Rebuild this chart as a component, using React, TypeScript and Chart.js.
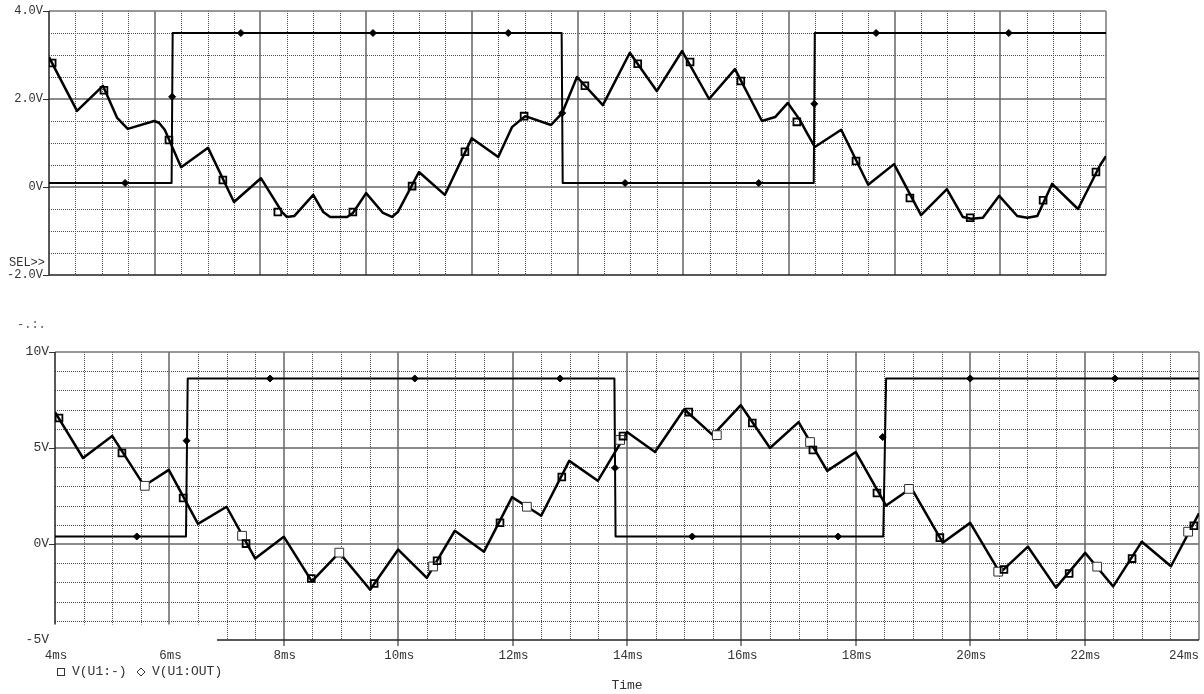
import React, { useEffect, useRef } from "react";
import { Chart, registerables } from "chart.js";
Chart.register(...registerables);

const MONO = '"Liberation Mono", "DejaVu Sans Mono", monospace';

// ---- shared time axis ----
const timeMin = 4;
const timeMax = 24;
const timeTickValues = [4, 6, 8, 10, 12, 14, 16, 18, 20, 22, 24];
const timeTickLabels = ["4ms", "6ms", "8ms", "10ms", "12ms", "14ms", "16ms", "18ms", "20ms", "22ms", "24ms"];

// ---- top panel ----
const topYTicks = [-2, 0, 2, 4];
const topInvT = [4.0, 4.53, 5.02, 5.29, 5.49, 5.99, 6.08, 6.19, 6.5, 7.01, 7.5, 8.01, 8.41, 8.5, 8.64, 9.0, 9.19, 9.32, 9.64, 9.75, 10.0, 10.32, 10.49, 10.6, 11.0, 11.49, 12.0, 12.5, 12.76, 13.01, 13.5, 13.71, 13.99, 14.48, 14.99, 15.5, 15.98, 16.49, 16.98, 17.49, 17.74, 17.98, 18.21, 18.34, 18.49, 18.99, 19.5, 19.99, 20.5, 20.99, 21.29, 21.45, 21.67, 21.98, 22.32, 22.51, 22.7, 22.98, 23.47, 23.89, 24.0];
const topInvV = [2.95, 1.73, 2.3, 1.57, 1.32, 1.5, 1.46, 1.3, 0.45, 0.89, -0.34, 0.2, -0.57, -0.68, -0.66, -0.18, -0.57, -0.68, -0.68, -0.59, -0.14, -0.59, -0.68, -0.57, 0.34, -0.18, 1.11, 0.68, 1.36, 1.61, 1.41, 1.68, 2.5, 1.86, 3.05, 2.18, 3.09, 2.0, 2.68, 1.5, 1.59, 1.91, 1.52, 1.23, 0.91, 1.3, 0.05, 0.52, -0.64, -0.05, -0.68, -0.72, -0.7, -0.2, -0.66, -0.7, -0.66, 0.07, -0.5, 0.5, 0.7];
const topOutT = [4, 6.32, 6.34, 13.7, 13.72, 18.47, 18.49, 24];
const topOutV = [0.09, 0.09, 3.5, 3.5, 0.09, 0.09, 3.5, 3.5];
const topInvMarkT = [4.06, 5.04, 6.27, 7.29, 8.33, 9.75, 10.87, 11.87, 12.99, 14.14, 15.14, 16.13, 17.09, 18.15, 19.27, 20.29, 21.43, 22.81, 23.81];
const topInvMarkV = [2.82, 2.2, 1.07, 0.16, -0.57, -0.57, 0.02, 0.8, 1.61, 2.3, 2.8, 2.84, 2.41, 1.48, 0.59, -0.25, -0.7, -0.3, 0.34];
const topOutMarkT = [5.44, 6.33, 7.63, 10.13, 12.69, 13.71, 14.9, 17.43, 18.48, 19.65, 22.16];
const topOutMarkV = [0.09, 2.05, 3.5, 3.5, 3.5, 1.68, 0.09, 0.09, 1.89, 3.5, 3.5];

// ---- bottom panel ----
const botYTicks = [-5, 0, 5, 10];
const botInvT = [4.0, 4.49, 5.0, 5.56, 5.99, 6.5, 7.0, 7.5, 8.0, 8.49, 8.97, 9.51, 10.0, 10.5, 10.99, 11.5, 11.99, 12.5, 12.99, 13.49, 14.0, 14.49, 15.0, 15.5, 15.99, 16.5, 17.0, 17.5, 18.0, 18.53, 18.97, 19.52, 20.0, 20.52, 21.01, 21.5, 22.01, 22.5, 23.0, 23.51, 24.0];
const botInvV = [6.87, 4.48, 5.63, 3.03, 3.86, 1.05, 1.94, -0.76, 0.38, -1.95, -0.45, -2.38, -0.29, -1.76, 0.69, -0.4, 2.44, 1.47, 4.33, 3.29, 5.83, 4.79, 7.02, 5.67, 7.23, 5.0, 6.35, 3.81, 4.79, 2.0, 2.92, 0.07, 1.1, -1.5, -0.14, -2.27, -0.46, -2.21, 0.12, -1.16, 1.6];
const botOutT = [4, 6.29, 6.32, 13.78, 13.8, 18.48, 18.53, 24];
const botOutV = [0.39, 0.39, 8.62, 8.62, 0.39, 0.39, 8.62, 8.62];
const botInvMarkT = [4.07, 5.17, 6.24, 7.34, 8.48, 9.58, 10.68, 11.78, 12.86, 13.93, 15.08, 16.19, 17.25, 18.37, 19.47, 20.59, 21.73, 22.83, 23.91];
const botInvMarkV = [6.56, 4.74, 2.4, 0.02, -1.8, -2.06, -0.87, 1.11, 3.49, 5.62, 6.87, 6.3, 4.9, 2.66, 0.33, -1.33, -1.54, -0.76, 0.95];
const botInvMark2T = [5.57, 7.27, 8.97, 10.61, 12.25, 13.88, 15.57, 17.2, 18.93, 20.49, 22.22, 23.81];
const botInvMark2V = [3.03, 0.43, -0.45, -1.17, 1.94, 5.42, 5.67, 5.31, 2.87, -1.44, -1.18, 0.64];
const botOutMarkT = [5.43, 6.3, 7.76, 10.29, 12.83, 13.79, 15.14, 17.69, 18.47, 20.0, 22.53];
const botOutMarkV = [0.39, 5.38, 8.62, 8.62, 8.62, 3.96, 0.39, 0.39, 5.57, 8.62, 8.62];

const legendLabels = ["V(U1:-)", "V(U1:OUT)"];
const xAxisTitle = "Time";

const pts = (t: number[], v: number[]) => t.map((x, i) => ({ x, y: v[i] }));

type PanelCfg = {
  minorX: number;
  majorX: number;
  minorY: number;
  majorY: number;
  cut?: { x: number; y: number };
  bottomTicks?: boolean;
  extra?: (chart: any) => void;
};

function makeGridPlugin(cfg: PanelCfg) {
  return {
    id: "pspiceGrid",
    beforeDatasetsDraw(chart: any) {
      const { ctx, chartArea: a } = chart;
      const xs = chart.scales.x;
      const ys = chart.scales.y;
      const isMul = (v: number, s: number) => Math.abs(v / s - Math.round(v / s)) < 1e-6;
      const cr = (p: number) => Math.round(p) + 0.5;
      ctx.save();
      // minor dotted
      ctx.lineWidth = 1;
      ctx.strokeStyle = "#4a4a4a";
      ctx.setLineDash([1, 1]);
      ctx.beginPath();
      for (let i = 1; ; i++) {
        const v = xs.min + i * cfg.minorX;
        if (v >= xs.max - 1e-9) break;
        if (isMul(v, cfg.majorX)) continue;
        const p = cr(xs.getPixelForValue(v));
        ctx.moveTo(p, a.top);
        ctx.lineTo(p, a.bottom);
      }
      for (let i = 1; ; i++) {
        const v = ys.min + i * cfg.minorY;
        if (v >= ys.max - 1e-9) break;
        if (isMul(v, cfg.majorY)) continue;
        const p = cr(ys.getPixelForValue(v));
        ctx.moveTo(a.left, p);
        ctx.lineTo(a.right, p);
      }
      ctx.stroke();
      // major solid
      ctx.setLineDash([]);
      ctx.lineWidth = 1.5;
      ctx.strokeStyle = "#666";
      ctx.beginPath();
      for (let i = 1; ; i++) {
        const v = xs.min + i * cfg.majorX;
        if (v >= xs.max - 1e-9) break;
        const p = Math.round(xs.getPixelForValue(v));
        const below = cfg.bottomTicks && (!cfg.cut || p >= cfg.cut.x) ? 6 : 0;
        ctx.moveTo(p, a.top);
        ctx.lineTo(p, a.bottom + below);
      }
      for (let i = 1; ; i++) {
        const v = ys.min + i * cfg.majorY;
        if (v >= ys.max - 1e-9) break;
        const p = Math.round(ys.getPixelForValue(v));
        ctx.moveTo(a.left, p);
        ctx.lineTo(a.right, p);
      }
      ctx.stroke();
      // frame: top, right grey
      ctx.lineWidth = 1.5;
      ctx.strokeStyle = "#777";
      ctx.beginPath();
      ctx.moveTo(a.left, Math.round(a.top));
      ctx.lineTo(a.right, Math.round(a.top));
      ctx.moveTo(Math.round(a.right), a.top);
      ctx.lineTo(Math.round(a.right), a.bottom);
      ctx.stroke();
      if (cfg.cut) {
        ctx.fillStyle = "#fff";
        ctx.fillRect(0, cfg.cut.y, cfg.cut.x, a.bottom + 3 - cfg.cut.y);
      }
      ctx.strokeStyle = "#222";
      ctx.beginPath();
      const bx0 = cfg.cut ? cfg.cut.x : a.left;
      ctx.moveTo(bx0, Math.round(a.bottom));
      ctx.lineTo(a.right, Math.round(a.bottom));
      ctx.moveTo(Math.round(a.left), a.top);
      ctx.lineTo(Math.round(a.left), cfg.cut ? cfg.cut.y : a.bottom);
      ctx.stroke();
      ctx.restore();
    },
    afterDraw(chart: any) {
      if (cfg.extra) cfg.extra(chart);
    },
  };
}

function lineDs(data: any[], width: number) {
  return {
    data,
    borderColor: "#000",
    borderWidth: width,
    pointRadius: 0,
    tension: 0,
    borderJoinStyle: "round",
    fill: false,
  };
}

function markDs(data: any[], style: string, radius: number, bg: string, border: string, bw: number) {
  return {
    data,
    showLine: false,
    pointStyle: style,
    pointRadius: radius,
    pointBackgroundColor: bg,
    pointBorderColor: border,
    pointBorderWidth: bw,
  };
}

function baseOptions(yTicks: number[], yFont: number, pad: any, yTickCb: (v: number) => string, yTickColor: any) {
  return {
    animation: false,
    responsive: false,
    events: [],
    layout: { padding: pad, autoPadding: false },
    plugins: { legend: { display: false }, tooltip: { enabled: false } },
    scales: {
      x: { type: "linear", min: timeMin, max: timeMax, display: false },
      y: {
        type: "linear",
        min: yTicks[0],
        max: yTicks[yTicks.length - 1],
        afterFit: (s: any) => {
          s.width = pad.axisWidth;
        },
        afterBuildTicks: (s: any) => {
          s.ticks = yTicks.map((v) => ({ value: v }));
        },
        ticks: {
          z: 1,
          padding: 0,
          color: "#333",
          font: { family: MONO, size: yFont },
          callback: (v: any) => yTickCb(Number(v)),
        },
        grid: { display: true, drawOnChartArea: false, drawTicks: true, tickLength: 6, tickColor: yTickColor, tickWidth: 1 },
        border: { display: false },
      },
    },
  };
}

export default function App() {
  const topRef = useRef<HTMLCanvasElement>(null);
  const botRef = useRef<HTMLCanvasElement>(null);

  useEffect(() => {
    const topPad = { top: 11, right: 98, bottom: 25, left: 0, axisWidth: 49 };
    const topChart = new Chart(topRef.current as HTMLCanvasElement, {
      type: "line",
      data: {
        datasets: [
          markDs(pts(topInvMarkT, topInvMarkV), "rect", 4.8, "rgba(0,0,0,0)", "#000", 1.8),
          markDs(pts(topOutMarkT, topOutMarkV), "rectRot", 3.5, "#000", "#000", 1),
          lineDs(pts(topInvT, topInvV), 2.5),
          lineDs(pts(topOutT, topOutV), 2),
        ] as any,
      },
      options: baseOptions(topYTicks, 12, topPad, (v) => (v === 0 ? "0V" : v.toFixed(1) + "V"), "#333") as any,
      plugins: [
        makeGridPlugin({
          minorX: 0.5,
          majorX: 2,
          minorY: 0.5,
          majorY: 2,
          extra: (chart: any) => {
            const ctx = chart.ctx;
            ctx.save();
            ctx.fillStyle = "#333";
            ctx.font = `12px ${MONO}`;
            ctx.textAlign = "left";
            ctx.textBaseline = "middle";
            ctx.fillText("SEL>>", 9, 263);
            ctx.restore();
          },
        }) as any,
      ],
    });

    const botPad = { top: 52, right: 5, bottom: 54, left: 0, axisWidth: 55 };
    const botChart = new Chart(botRef.current as HTMLCanvasElement, {
      type: "line",
      data: {
        datasets: [
          markDs(pts(botInvMarkT, botInvMarkV), "rect", 4.8, "rgba(0,0,0,0)", "#000", 1.8),
          markDs(pts(botInvMark2T, botInvMark2V), "rect", 6.2, "#fff", "#333", 1),
          markDs(pts(botOutMarkT, botOutMarkV), "rectRot", 3.5, "#000", "#000", 1),
          lineDs(pts(botInvT, botInvV), 2.5),
          lineDs(pts(botOutT, botOutV), 2),
        ] as any,
      },
      options: baseOptions(botYTicks, 13, botPad, (v) => v + "V", (c: any) => (c.tick && c.tick.value === -5 ? "rgba(0,0,0,0)" : "#333")) as any,
      plugins: [
        makeGridPlugin({
          minorX: 0.5,
          majorX: 2,
          minorY: 1,
          majorY: 5,
          cut: { x: 217, y: 324.5 },
          bottomTicks: true,
          extra: (chart: any) => {
            const { ctx, chartArea: a } = chart;
            const xs = chart.scales.x;
            ctx.save();
            ctx.fillStyle = "#333";
            ctx.textBaseline = "middle";
            ctx.font = `12.5px ${MONO}`;
            timeTickValues.forEach((v, i) => {
              const lbl = timeTickLabels[i];
              const w = ctx.measureText(lbl).width;
              let cx = xs.getPixelForValue(v) + 1;
              if (cx + w / 2 > a.right) cx = a.right - w / 2;
              ctx.textAlign = "center";
              ctx.fillText(lbl, cx, a.bottom + 16);
            });
            // legend
            ctx.font = `13px ${MONO}`;
            ctx.textAlign = "left";
            const ly = a.bottom + 32;
            ctx.strokeStyle = "#333";
            ctx.lineWidth = 1;
            ctx.strokeRect(57.5, ly - 3.5, 7, 7);
            ctx.fillText(legendLabels[0], 72, ly);
            ctx.beginPath();
            ctx.moveTo(141, ly - 4);
            ctx.lineTo(145, ly);
            ctx.lineTo(141, ly + 4);
            ctx.lineTo(137, ly);
            ctx.closePath();
            ctx.stroke();
            ctx.fillText(legendLabels[1], 152, ly);
            // axis title
            ctx.textAlign = "center";
            ctx.fillText(xAxisTitle, 627, a.bottom + 46);
            // truncated label remnant
            ctx.fillStyle = "#555";
            ctx.font = `12px ${MONO}`;
            ctx.textAlign = "left";
            ctx.fillText("-.:.", 17, 25);
            ctx.restore();
          },
        }) as any,
      ],
    });

    return () => {
      topChart.destroy();
      botChart.destroy();
    };
  }, []);

  return (
    <div style={{ position: "fixed", left: 0, top: 0, width: 1204, height: 694, background: "#fff", overflow: "hidden" }}>
      <canvas ref={topRef} width={1204} height={300} style={{ position: "absolute", left: 0, top: 0, display: "block" }} />
      <canvas ref={botRef} width={1204} height={394} style={{ position: "absolute", left: 0, top: 300, display: "block" }} />
    </div>
  );
}
